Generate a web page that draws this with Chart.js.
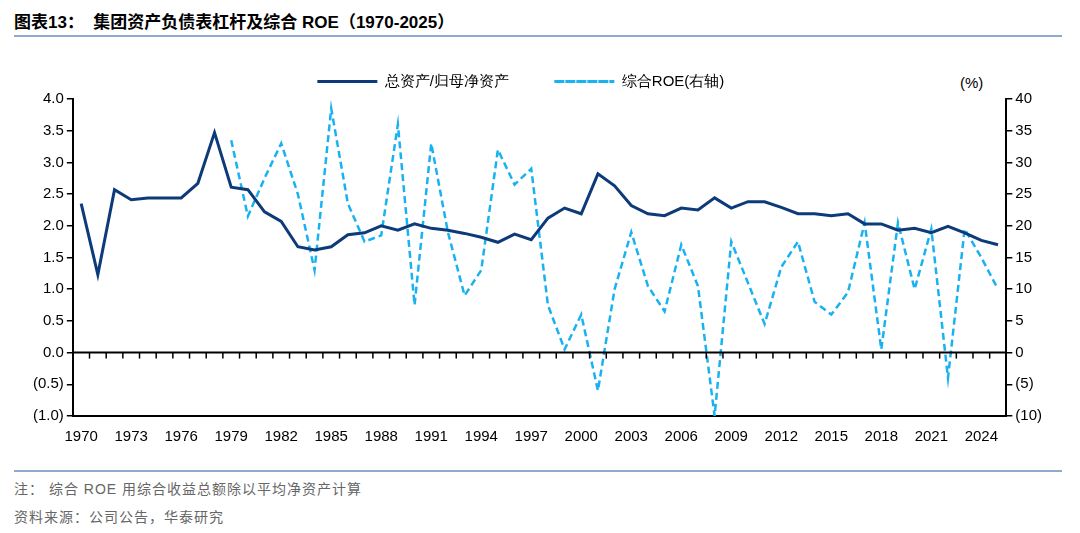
<!DOCTYPE html>
<html><head><meta charset="utf-8">
<script src="https://cdn.jsdelivr.net/npm/chart.js@4"></script>
<style>
body{margin:0;width:1080px;height:533px;background:#fff;font-family:"Liberation Sans",Arial,"Noto Sans CJK SC",sans-serif;position:relative;overflow:hidden}
#title{position:absolute;left:14px;top:8px;font-size:17px;font-weight:bold;color:#000}
.rule{position:absolute;left:14px;width:1048px;height:2px;background:#8fa9cf}
.note{position:absolute;left:14px;font-size:14px;color:#666;letter-spacing:1px}
#wrap{position:absolute;left:30px;top:62px;width:1015px;height:388px}
#unit{position:absolute;left:960px;top:74px;font-size:15px}
</style></head><body>
<div id="title">图表13：&nbsp;&nbsp;集团资产负债表杠杆及综合 ROE（1970-2025）</div>
<div class="rule" style="top:35px"></div>
<div id="unit">(%)</div>
<div id="wrap"><canvas id="c"></canvas></div>
<div class="rule" style="top:470px"></div>
<div class="note" style="top:478px">注：&nbsp;综合 ROE 用综合收益总额除以平均净资产计算</div>
<div class="note" style="top:506px">资料来源：公司公告，华泰研究</div>
<script>
const years = [];
for (let y = 1970; y <= 2025; y++) years.push(String(y));
const leverage = [2.35,1.23,2.57,2.41,2.44,2.44,2.44,2.67,3.47,2.61,2.57,2.22,2.07,1.67,1.62,1.67,1.86,1.89,2.0,1.93,2.03,1.96,1.93,1.88,1.82,1.74,1.87,1.78,2.12,2.28,2.19,2.82,2.63,2.32,2.19,2.16,2.28,2.25,2.44,2.28,2.38,2.38,2.29,2.19,2.19,2.16,2.19,2.03,2.03,1.93,1.96,1.89,1.99,1.89,1.77,1.70];
const roe = [null,null,null,null,null,null,null,null,null,33.5,21.5,27.5,33,25,13,38.5,23.5,17.5,18.5,36,7.5,33,19,9,13,32,26.5,29,7.5,0.5,6,-6,10,19,10.5,6.5,17,10.5,-10,17.5,11,4.5,13.5,17.5,8,6,9.5,20.5,0.5,20.5,10,19.5,-4,19.5,15,10];

const fmt = (v, d) => v < 0 ? '(' + Math.abs(v).toFixed(d) + ')' : v.toFixed(d);
const tickGrid = {display: true, drawOnChartArea: false, tickLength: 6, color: '#000', lineWidth: 1.5};
new Chart(document.getElementById('c'), {
  type: 'line',
  data: {
    labels: years,
    datasets: [
      {label: '总资产/归母净资产', data: leverage, yAxisID: 'y', borderColor: '#0d3a78', borderWidth: 3, pointRadius: 0, tension: 0},
      {label: '综合ROE(右轴)', data: roe, yAxisID: 'y1', borderColor: '#19b2f0', borderWidth: 2.5, borderDash: [7, 4], pointRadius: 0, tension: 0}
    ]
  },
  options: {
    responsive: true, maintainAspectRatio: false, animation: false,
    plugins: {
      legend: {position: 'top', labels: {boxWidth: 60, boxHeight: 0, font: {size: 15}, color: '#000', padding: 12,
        generateLabels: ch => ch.data.datasets.map((d, i) => ({text: d.label + '        ', strokeStyle: d.borderColor, fillStyle: d.borderColor, lineWidth: 3, lineDash: d.borderDash || [], datasetIndex: i}))}},
      tooltip: {enabled: false}
    },
    scales: {
      x: {offset: true, grid: {display: false}, border: {color: '#000', width: 2},
        ticks: {color: '#000', font: {size: 15}, maxRotation: 0, autoSkip: false, padding: 4,
          callback: (v, i) => i % 3 === 0 ? years[i] : ''}},
      y: {min: -1, max: 4, position: 'left', border: {color: '#000', width: 2},
        grid: tickGrid, ticks: {stepSize: 0.5, color: '#000', font: {size: 15}, callback: v => fmt(v, 1)}},
      y1: {min: -10, max: 40, position: 'right', border: {color: '#000', width: 2},
        grid: tickGrid, ticks: {stepSize: 5, color: '#000', font: {size: 15}, callback: v => fmt(v, 0)}}
    }
  },
  plugins: [{
    id: 'zero',
    afterDatasetsDraw(ch) {
      const {ctx, scales: {x, y}} = ch;
      const y0 = y.getPixelForValue(0);
      const step = x.getPixelForValue(1) - x.getPixelForValue(0);
      ctx.save();
      ctx.strokeStyle = '#000'; ctx.lineWidth = 2;
      ctx.beginPath(); ctx.moveTo(x.left, y0); ctx.lineTo(x.right, y0); ctx.stroke();
      ctx.lineWidth = 1.5;
      for (let i = 0; i < years.length - 1; i++) {
        const px = x.getPixelForValue(i) + step / 2;
        ctx.beginPath(); ctx.moveTo(px, y0); ctx.lineTo(px, y0 + 6); ctx.stroke();
      }
      ctx.restore();
    }
  }]
});
</script>
</body></html>
